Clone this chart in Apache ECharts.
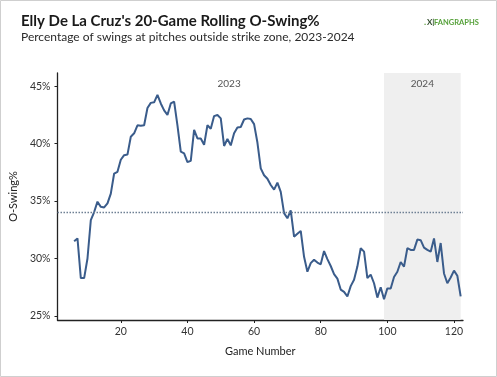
<!DOCTYPE html>
<html>
<head>
<meta charset="utf-8">
<script src="https://cdn.jsdelivr.net/npm/echarts@6/dist/echarts.min.js"></script>
<style>
  html, body { margin: 0; padding: 0; background: #fff; }
  #chart { width: 497px; height: 377px; }
</style>
</head>
<body>
<div id="chart"></div>
<script>
// ---- data ----
const games = [6,7,8,9,10,11,12,13,14,15,16,17,18,19,20,21,22,23,24,25,26,27,28,29,30,
  31,32,33,34,35,36,37,38,39,40,41,42,43,44,45,46,47,48,49,50,51,52,53,54,55,56,57,58,59,60,
  61,62,63,64,65,66,67,68,69,70,71,72,73,74,75,76,77,78,79,80,81,82,83,84,85,86,87,88,89,90,
  91,92,93,94,95,96,97,98,99,100,101,102,103,104,105,106,107,108,109,110,111,112,113,114,115,
  116,117,118,119,120,121,122];
const oSwing = [31.5,31.75,28.3,28.3,30.0,33.35,34.05,34.95,34.5,34.45,34.8,35.65,37.4,37.55,38.6,
  39.0,39.05,40.6,40.9,41.6,41.55,41.6,43.1,43.55,43.6,
  44.25,43.5,42.9,42.5,43.5,43.65,41.6,39.3,39.15,38.4,38.5,41.2,40.45,40.45,39.9,41.6,41.3,42.4,42.5,42.2,
  39.8,40.4,39.85,40.9,41.4,41.45,42.1,42.2,42.15,41.7,
  40.1,37.85,37.25,36.95,36.4,36.0,36.6,35.8,33.95,33.5,34.2,31.9,32.15,32.4,30.15,28.85,29.6,29.9,29.65,29.5,
  30.65,29.95,29.35,28.65,28.25,27.3,27.1,26.7,27.6,28.15,
  29.3,30.9,30.6,28.3,28.6,27.85,26.6,27.5,26.45,27.4,27.4,28.4,28.85,29.7,29.3,30.9,30.75,30.75,31.65,31.6,
  30.95,30.75,30.6,31.75,29.7,31.35,28.7,27.85,28.35,28.95,28.5,26.7];
const leagueAvg = 34;
const seasons = ['2023', '2024'];
const seasonBounds = [[6, 99], [99, 122]];
const xTicks = [20, 40, 60, 80, 100, 120];
const yTicks = [25, 30, 35, 40, 45];

const titleText = "Elly De La Cruz's 20-Game Rolling O-Swing%";
const subtitleText = 'Percentage of swings at pitches outside strike zone, 2023-2024';

const FONT = 'Lato, "Noto Sans", sans-serif';
const chart = echarts.init(document.getElementById('chart'), null, { renderer: 'canvas' });

const lineData = games.map((g, i) => [g, oSwing[i]]);

chart.setOption({
  animation: false,
  backgroundColor: '#ffffff',
  textStyle: { fontFamily: FONT },
  grid: { left: 56, right: 34, top: 73, bottom: 57, containLabel: false },
  graphic: [
    { type: 'rect', silent: true, z: 100,
      shape: { x: 0.5, y: 0.5, width: 496, height: 376 },
      style: { fill: 'none', stroke: '#cfcfcf', lineWidth: 1 } },
    { type: 'text', left: 21, top: 14, z: 100,
      style: { text: titleText, font: 'bold 15px ' + FONT, fill: '#1a1a1a' } },
    { type: 'text', left: 21, top: 31, z: 100,
      style: { text: subtitleText, font: '12px ' + FONT, fill: '#2a2a2a' } },
    { type: 'text', left: 424, top: 18, z: 100,
      style: { text: '.', font: 'bold 9px ' + FONT, fill: '#5aa03c' } },
    { type: 'text', left: 427, top: 18, z: 100,
      style: { text: 'X|', font: 'bold 8px ' + FONT, fill: '#2f4a2a' } },
    { type: 'text', left: 434, top: 18.5, z: 100,
      style: { text: 'FANGRAPHS', font: 'bold 7.5px ' + FONT, fill: '#56a13a' } }
  ],
  xAxis: {
    type: 'value',
    min: 1,
    max: 122.7,
    name: 'Game Number',
    nameLocation: 'middle',
    nameGap: 26,
    nameTextStyle: { fontSize: 11, color: '#222', fontFamily: FONT },
    splitLine: { show: false },
    axisLine: { show: true, onZero: false, lineStyle: { color: '#222', width: 1.3 } },
    axisTick: { show: true, length: 3, customValues: xTicks, lineStyle: { color: '#222' } },
    axisLabel: { customValues: xTicks, margin: 6, fontSize: 10.5, color: '#333', fontFamily: FONT }
  },
  yAxis: {
    type: 'value',
    min: 24.65,
    max: 46.15,
    name: 'O-Swing%',
    nameLocation: 'middle',
    nameGap: 37,
    nameRotate: 90,
    nameTextStyle: { fontSize: 11, color: '#222', fontFamily: FONT },
    splitLine: { show: false },
    axisLine: { show: true, lineStyle: { color: '#222', width: 1.3 } },
    axisTick: { show: true, length: 3, customValues: yTicks, lineStyle: { color: '#222' } },
    axisLabel: { customValues: yTicks, margin: 7, fontSize: 10.5, color: '#333', fontFamily: FONT,
      formatter: v => v + '%' }
  },
  series: [
    {
      type: 'line',
      data: [],
      z: 1,
      silent: true,
      markArea: {
        silent: true,
        label: { position: 'insideTop', distance: 6, fontSize: 10, color: '#555', fontFamily: FONT },
        data: [
          [{ xAxis: seasonBounds[0][0], name: seasons[0], itemStyle: { color: 'rgba(0,0,0,0)' } },
           { xAxis: seasonBounds[0][1] }],
          [{ xAxis: seasonBounds[1][0], name: seasons[1], itemStyle: { color: '#efefef' } },
           { xAxis: seasonBounds[1][1] }]
        ]
      }
    },
    {
      type: 'line',
      data: lineData,
      z: 3,
      symbol: 'none',
      lineStyle: { color: '#3a5c8b', width: 2 },
      markLine: {
        silent: true,
        symbol: 'none',
        label: { show: false },
        lineStyle: { color: '#6f8094', type: [1.5, 1.5], width: 1.3 },
        data: [{ yAxis: leagueAvg }]
      }
    }
  ]
});
</script>
</body>
</html>
